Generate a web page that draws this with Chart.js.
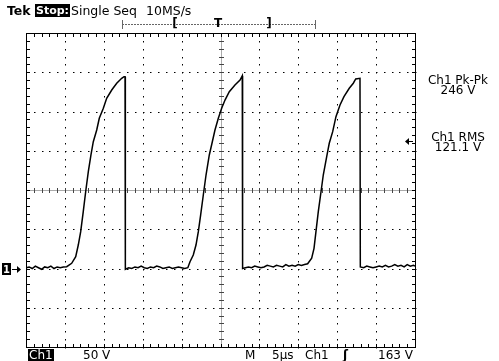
<!DOCTYPE html>
<html lang="en">
<head>
<meta charset="UTF-8">
<title>Tek scope capture</title>
<script src="https://cdn.jsdelivr.net/npm/chart.js"></script>
<style>
  body { margin: 0; background: #fff; }
  #wrap { position: relative; width: 499px; height: 361px; overflow: hidden; }
  #wrap canvas { position: absolute; left: 0; top: 0; }
  .t { position: absolute; font-family: "DejaVu Sans", sans-serif; font-size: 12px; line-height: 12px; color: #000; white-space: nowrap; }
  .top { font-size: 12.5px; line-height: 13px; }
  .inv { background: #000; color: #fff; padding: 0 1px; }
  .b { font-weight: bold; }
  .ro { width: 80px; text-align: center; }
</style>
</head>
<body>
<div id="wrap">
  <canvas id="scope" width="499" height="361"></canvas>

  <div class="t top b" style="left:7px; top:4px;">Tek</div>
  <div class="t top b inv" style="left:35px; top:4px; font-size:11px;">Stop:</div>
  <div class="t top" style="left:71px; top:4px;">Single Seq</div>
  <div class="t top" style="left:146px; top:4px;">10MS/s</div>

  <div class="t ro" style="left:418px; top:74px;">Ch1 Pk-Pk</div>
  <div class="t ro" style="left:418px; top:84px;">246 V</div>
  <div class="t ro" style="left:418px; top:131px;">Ch1 RMS</div>
  <div class="t ro" style="left:418px; top:141px;">121.1 V</div>

  <div class="t inv" style="left:28px; top:349px;">Ch1</div>
  <div class="t" style="left:83px; top:349px;">50 V</div>
  <div class="t" style="left:245px; top:349px;">M</div>
  <div class="t" style="left:272px; top:349px;">5µs</div>
  <div class="t" style="left:305px; top:349px;">Ch1</div>
  <div class="t b" style="left:343px; top:349px;">ʃ</div>
  <div class="t" style="left:378px; top:349px;">163 V</div>
</div>

<script>
// time axis in µs (5 µs/div, 10 div), Ch1 in volts (50 V/div, ground 2 div below centre)
const timeUs = [
  0, 0.4, 0.8, 1.2, 1.6, 2.0, 2.4, 2.8, 3.2, 3.6, 4.0, 4.4, 4.8,
  5.23, 5.87, 6.39, 6.72, 7.03, 7.36, 7.67, 8.01, 8.35, 8.65, 9.09, 9.42, 9.94, 10.37, 11.02, 11.66, 12.30, 12.60, 12.73,
  12.77,
  13.2, 13.6, 14.0, 14.4, 14.8, 15.2, 15.6, 16.0, 16.4, 16.8, 17.2, 17.6, 18.0, 18.4, 18.8, 19.2, 19.6, 20.0, 20.4, 20.8,
  21.08, 21.50, 21.85, 22.15, 22.45, 22.79, 23.14, 23.56, 23.95, 24.29, 24.72, 25.15, 25.58, 26.13, 26.86, 27.51, 27.80,
  27.84,
  28.2, 28.6, 29.0, 29.4, 29.8, 30.2, 30.6, 31.0, 31.4, 31.8, 32.2, 32.6, 33.0, 33.4, 33.8, 34.2, 34.6, 35.0, 35.4, 35.8, 36.2,
  36.72, 37.02, 37.27, 37.57, 37.92, 38.21, 38.65, 38.98, 39.42, 39.84, 40.36, 40.87, 41.55, 42.07, 42.38, 42.93,
  42.97,
  43.4, 43.8, 44.2, 44.6, 45.0, 45.4, 45.8, 46.2, 46.6, 47.0, 47.4, 47.8, 48.2, 48.6, 49.0, 49.4, 49.8, 50.0
];
const ch1Volts = [
  1, 2, 0, 3, 1, -1, 2, 1, 3, 0, 2, 1, 2,
  2.3, 6.6, 15, 29.9, 46.9, 72.4, 97.8, 123.3, 144.6, 161.5, 176.4, 191.3, 204.1, 216.8, 227.4, 235.9, 242.3, 244.3, 244.3,
  -1,
  1, 0, 2, 1, 3, 1, 0, 2, 1, 3, 2, 0, 1, 2, 0, 1, 2, 1, 0, 1,
  8.7, 17.2, 29.9, 46.9, 68.2, 93.6, 119.1, 144.6, 161.5, 176.4, 191.3, 204.1, 214.6, 225.2, 233.8, 240.1, 245.6,
  0,
  1, 2, 1, 3, 2, 1, 2, 4, 3, 2, 4, 3, 2, 5, 3, 4, 3, 5, 4, 5, 6,
  13, 25.7, 46.9, 72.4, 97.8, 119.1, 142.4, 159.5, 174.3, 193.4, 208.3, 218.9, 229.6, 236, 241.4, 242.3,
  2,
  1, 3, 2, 1, 2, 3, 2, 4, 2, 3, 5, 3, 4, 2, 5, 3, 4, 3
];
const triggerLevel = 163;   // V
const groundLevel = 0;      // V

const points = timeUs.map((t, i) => ({ x: t, y: ch1Volts[i] }));

// graticule, ground marker, trigger marks
const graticule = {
  id: 'graticule',
  beforeDatasetsDraw(chart) {
    const { ctx, chartArea: a, scales: { x, y } } = chart;
    const L = Math.round(a.left), R = Math.round(a.right), T = Math.round(a.top), B = Math.round(a.bottom);
    const px = v => Math.round(x.getPixelForValue(v));
    const py = v => Math.round(y.getPixelForValue(v));
    ctx.save();

    // dotted division lines, 5 dots per division
    ctx.fillStyle = '#000';
    for (let d = 5; d < 50; d += 5) {
      if (d === 25) continue;
      for (let v = -100; v <= 300; v += 10) ctx.fillRect(px(d), py(v), 1, 1.5);
    }
    for (let v = -50; v < 300; v += 50) {
      if (v === 100) continue;
      for (let d = 0; d <= 50; d++) ctx.fillRect(px(d), py(v), 1.5, 1);
    }

    // centre lines with minor ticks
    ctx.fillStyle = '#aaa';
    ctx.fillRect(L, py(100), R - L, 1);
    ctx.fillRect(px(25), T, 1, B - T);
    ctx.fillStyle = '#444';
    for (let d = 0; d <= 50; d++) ctx.fillRect(px(d), py(100) - 2, 1, 5);
    for (let v = -100; v <= 300; v += 10) ctx.fillRect(px(25) - 2, py(v), 5, 1);

    // border and border ticks
    ctx.fillStyle = '#000';
    ctx.fillRect(L, T, R - L + 1, 1);
    ctx.fillRect(L, B, R - L + 1, 1);
    ctx.fillRect(L, T, 1, B - T + 1);
    ctx.fillRect(R, T, 1, B - T + 1);
    for (let d = 0; d <= 50; d++) {
      ctx.fillRect(px(d), T, 1, 4);
      ctx.fillRect(px(d), B - 3, 1, 4);
    }
    for (let v = -100; v <= 300; v += 10) {
      ctx.fillRect(L, py(v), 4, 1);
      ctx.fillRect(R - 3, py(v), 4, 1);
    }

    // record / trigger position bar above the graticule
    const barY = 24;
    ctx.strokeStyle = '#666';
    ctx.lineWidth = 1;
    ctx.setLineDash([2, 1]);
    ctx.beginPath();
    ctx.moveTo(px(12.3), barY + 0.5);
    ctx.lineTo(px(37.1), barY + 0.5);
    ctx.stroke();
    ctx.setLineDash([]);
    ctx.fillStyle = '#666';
    ctx.fillRect(px(12.3), barY - 4, 1, 9);
    ctx.fillRect(px(37.1), barY - 4, 1, 9);
    ctx.fillStyle = '#000';
    ctx.font = 'bold 12px "DejaVu Sans"';
    ctx.textAlign = 'center';
    ctx.textBaseline = 'middle';
    ctx.fillText('[', px(19.2), barY);
    ctx.fillText(']', px(31.2), barY);
    ctx.fillText('T', px(24.7), barY);

    // ground marker "1→"
    const gy = py(groundLevel);
    ctx.fillRect(2, gy - 6, 9, 12);
    ctx.fillStyle = '#fff';
    ctx.font = 'bold 10px "DejaVu Sans"';
    ctx.fillText('1', 6.5, gy + 1);
    ctx.fillStyle = '#000';
    ctx.fillRect(12, gy, 6, 1);
    ctx.beginPath();
    ctx.moveTo(21, gy + 0.5);
    ctx.lineTo(17, gy - 3);
    ctx.lineTo(17, gy + 4);
    ctx.closePath();
    ctx.fill();

    // trigger level arrow on the right
    const ty = py(triggerLevel);
    ctx.fillRect(R - 7, ty, 5, 1);
    ctx.beginPath();
    ctx.moveTo(R - 10, ty + 0.5);
    ctx.lineTo(R - 6, ty - 3);
    ctx.lineTo(R - 6, ty + 4);
    ctx.closePath();
    ctx.fill();

    ctx.restore();
  }
};

new Chart(document.getElementById('scope'), {
  type: 'line',
  data: {
    datasets: [{
      label: 'Ch1',
      data: points,
      borderColor: '#000',
      borderWidth: 1.5,
      pointRadius: 0,
      tension: 0,
      fill: false
    }]
  },
  options: {
    responsive: false,
    animation: false,
    layout: { padding: { left: 26, right: 84, top: 33, bottom: 14 } },
    scales: {
      x: { type: 'linear', min: 0, max: 50, display: false },
      y: { type: 'linear', min: -100, max: 300, display: false }
    },
    plugins: { legend: { display: false }, tooltip: { enabled: false } }
  },
  plugins: [graticule]
});
</script>
</body>
</html>
